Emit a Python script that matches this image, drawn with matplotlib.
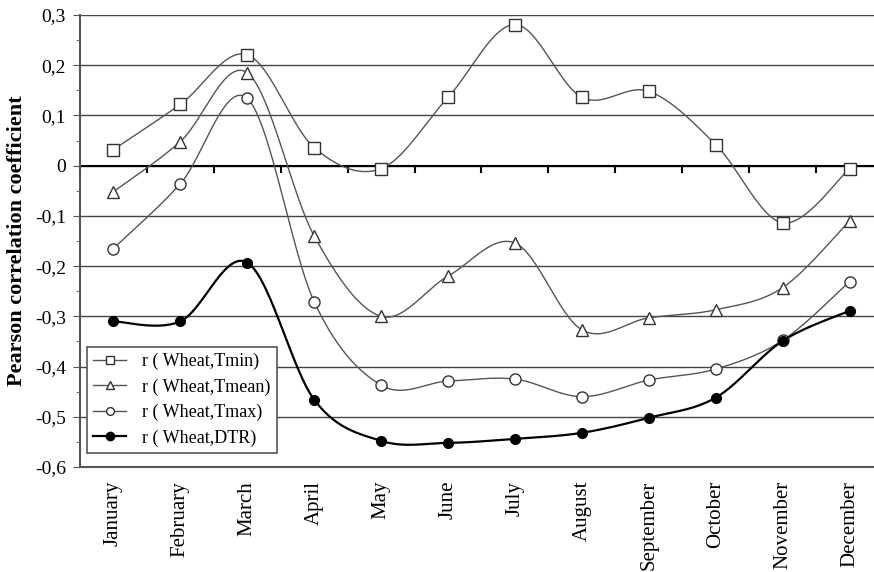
import matplotlib.pyplot as plt
import numpy as np
from matplotlib.ticker import FuncFormatter, MultipleLocator

plt.rcParams["font.family"] = ["Liberation Serif", "DejaVu Serif"]

months = ["January", "February", "March", "April", "May", "June", "July",
          "August", "September", "October", "November", "December"]

r_tmin = [0.032, 0.122, 0.221, 0.036, -0.006, 0.136, 0.281, 0.136, 0.148, 0.042, -0.114, -0.006]
r_tmean = [-0.052, 0.048, 0.185, -0.140, -0.300, -0.220, -0.154, -0.327, -0.303, -0.287, -0.243, -0.110]
r_tmax = [-0.165, -0.036, 0.134, -0.271, -0.437, -0.429, -0.425, -0.460, -0.427, -0.405, -0.348, -0.231]
r_dtr = [-0.310, -0.310, -0.193, -0.466, -0.548, -0.552, -0.544, -0.532, -0.502, -0.462, -0.349, -0.289]


def smooth(y, n=30):
    # excel-like smoothed line: cubic bezier with catmull-rom control points
    y = np.asarray(y, float)
    x = np.arange(len(y), dtype=float)
    xs, ys = [], []
    for i in range(len(y) - 1):
        p0 = (x[i - 1], y[i - 1]) if i > 0 else (x[i], y[i])
        p1 = (x[i], y[i])
        p2 = (x[i + 1], y[i + 1])
        p3 = (x[i + 2], y[i + 2]) if i + 2 < len(y) else (x[i + 1], y[i + 1])
        c1 = (p1[0] + (p2[0] - p0[0]) / 6, p1[1] + (p2[1] - p0[1]) / 6)
        c2 = (p2[0] - (p3[0] - p1[0]) / 6, p2[1] - (p3[1] - p1[1]) / 6)
        t = np.linspace(0, 1, n)
        b = [(1 - t) ** 3, 3 * (1 - t) ** 2 * t, 3 * (1 - t) * t ** 2, t ** 3]
        xs.append(b[0] * p1[0] + b[1] * c1[0] + b[2] * c2[0] + b[3] * p2[0])
        ys.append(b[0] * p1[1] + b[1] * c1[1] + b[2] * c2[1] + b[3] * p2[1])
    return np.concatenate(xs), np.concatenate(ys)


fig = plt.figure(figsize=(8.74, 5.72), dpi=100)
ax = fig.add_axes([0.0915, 0.1836, 0.9188, 0.7902])

x = np.arange(len(months))
gray = "#555555"
series = [
    (r_tmin, "s", 8, "r ( Wheat,Tmin)"),
    (r_tmean, "^", 8.5, "r ( Wheat,Tmean)"),
    (r_tmax, "o", 8, "r ( Wheat,Tmax)"),
]
handles = []
for vals, mk, ms, lab in series:
    sx, sy = smooth(vals)
    ax.plot(sx, sy, color=gray, lw=1.0, zorder=3)
    ax.plot(x, vals, ls="none", marker=mk, ms=ms, mfc="white", mec="#333333", mew=1.0, zorder=4)
    h, = ax.plot([], [], color=gray, lw=1.0, marker=mk, ms=ms * 0.7, mfc="white", mec="#333333", label=lab)
    handles.append(h)

sx, sy = smooth(r_dtr)
ax.plot(sx, sy, color="black", lw=1.6, zorder=5)
ax.plot(x, r_dtr, ls="none", marker="o", ms=7, color="black", zorder=6)
h, = ax.plot([], [], color="black", lw=1.6, marker="o", ms=6, label="r ( Wheat,DTR)")
handles.append(h)

ax.set_xlim(-0.5, 11.5)
ax.set_ylim(-0.6, 0.3)
ax.yaxis.set_major_locator(MultipleLocator(0.1))
ax.yaxis.set_minor_locator(MultipleLocator(0.05))
ax.yaxis.set_major_formatter(FuncFormatter(lambda v, p: "0" if abs(v) < 1e-9 else f"{v:.1f}".replace(".", ",")))
ax.grid(axis="y", which="major", color="#444444", lw=1.0, zorder=1)
ax.tick_params(axis="y", which="major", length=5, color=gray, labelsize=14, pad=5)
ax.tick_params(axis="y", which="minor", length=3, color=gray)

# category axis crossing at zero
ax.set_xticks(x)
ax.set_xticklabels(months, rotation=90, fontsize=15)
ax.tick_params(axis="x", length=0, pad=10)
ax.axhline(0, color="black", lw=1.5, zorder=2)
for b in np.arange(-0.5, 12, 1):
    ax.plot([b, b], [0, -0.012], color="black", lw=1.5, zorder=2, clip_on=False)

for s in ["top", "right"]:
    ax.spines[s].set_visible(False)
ax.spines["left"].set_color(gray)
ax.spines["bottom"].set_color(gray)
ax.spines["left"].set_linewidth(1.5)
ax.spines["bottom"].set_linewidth(1.5)

ax.set_ylabel("Pearson correlation coefficient", fontsize=16, fontweight="bold", labelpad=6)

leg = ax.legend(handles=handles, loc="lower left", bbox_to_anchor=(0.0087, 0.031), fontsize=13,
                fancybox=False, framealpha=1, edgecolor=gray, handlelength=1.8,
                borderpad=0.35, labelspacing=0.45, handletextpad=0.9, borderaxespad=0)
leg.get_frame().set_linewidth(1.2)
leg.set_zorder(10)

fig.savefig("out.png", dpi=100)
